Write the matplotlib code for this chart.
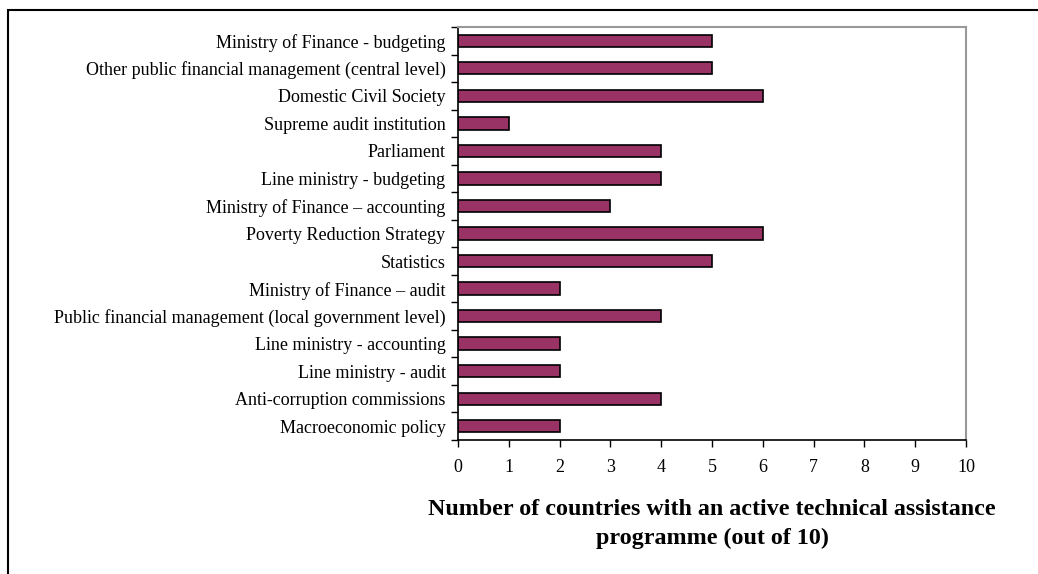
import matplotlib
matplotlib.use("Agg")
import matplotlib.pyplot as plt
from matplotlib.patches import Rectangle

plt.rcParams['font.family'] = ['Liberation Serif', 'DejaVu Serif']

categories = [
    "Ministry of Finance - budgeting",
    "Other public financial management (central level)",
    "Domestic Civil Society",
    "Supreme audit institution",
    "Parliament",
    "Line ministry - budgeting",
    "Ministry of Finance \u2013 accounting",
    "Poverty Reduction Strategy",
    "Statistics",
    "Ministry of Finance \u2013 audit",
    "Public financial management (local government level)",
    "Line ministry - accounting",
    "Line ministry - audit",
    "Anti-corruption commissions",
    "Macroeconomic policy",
]
values = [5, 5, 6, 1, 4, 4, 3, 6, 5, 2, 4, 2, 2, 4, 2]
x_ticks = list(range(0, 11))

W, H = 1038, 574
fig = plt.figure(figsize=(W / 100, H / 100), dpi=100)

# outer frame (extends past the right and bottom edges)
fig.add_artist(Rectangle((8 / W, -0.1), 1.2, 1 - 10 / H + 0.1,
                         transform=fig.transFigure, fill=False,
                         edgecolor='black', linewidth=1.5))

left, right, top, bottom = 458, 966, 27, 440
ax = fig.add_axes([left / W, 1 - bottom / H, (right - left) / W, (bottom - top) / H])

n = len(categories)
ypos = list(range(n))
ax.barh(ypos, values, height=0.45, color='#993366', edgecolor='black', linewidth=1.2)
ax.set_ylim(n - 0.5, -0.5)
ax.set_xlim(0, 10)

ax.set_yticks(ypos)
ax.set_yticklabels(categories, fontsize=13)
ax.tick_params(axis='y', length=0, pad=9)
ax.set_yticks([i - 0.5 for i in range(n + 1)], minor=True)
ax.tick_params(axis='y', which='minor', length=5, direction='out', width=1)

ax.set_xticks(x_ticks)
ax.set_xticklabels([str(t) for t in x_ticks], fontsize=13)
ax.tick_params(axis='x', length=5, direction='out', width=1, pad=9)

for s in ('top', 'right'):
    ax.spines[s].set_color('#999999')
    ax.spines[s].set_linewidth(1.5)
for s in ('left', 'bottom'):
    ax.spines[s].set_color('black')
    ax.spines[s].set_linewidth(1.2)

ax.set_xlabel("Number of countries with an active technical assistance\nprogramme (out of 10)",
              fontsize=17.3, fontweight='bold', labelpad=16, linespacing=1.5)

fig.savefig("out.png", dpi=100)
